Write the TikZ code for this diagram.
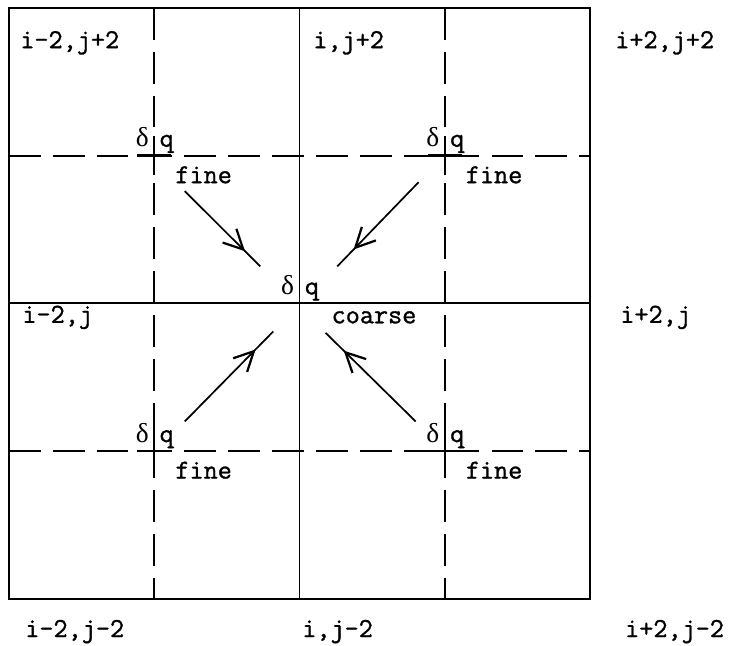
\documentclass[tikz,border=0pt]{standalone}
\usepackage{fontspec}
\usetikzlibrary{arrows.meta,decorations.markings}

\newfontfamily\typer{Latin Modern Mono}[FakeBold=1.2]
\newfontfamily\grk{Liberation Serif}

\begin{document}
\begin{tikzpicture}[x=2.98cm, y=3.03cm,
    gridline/.style={line width=1.1pt},
    fineline/.style={line width=1.1pt, dash pattern=on 0.65cm off 0.25cm},
    txt/.style={font=\fontsize{16}{18}\selectfont\typer, inner sep=0pt},
    flux/.style={line width=1pt, postaction={decorate},
        decoration={markings, mark=at position 0.8 with
            {\arrow{Straight Barb[length=4mm,width=4mm,line width=1.3pt]}}}}]

            \useasboundingbox (-0.062,-0.318) rectangle (4.978,4.054);

            % --------------------------------------------------
            % Grid points
            % --------------------------------------------------
            \coordinate (c)  at (2,2);
            \coordinate (tl) at (1,3);
            \coordinate (tr) at (3,3);
            \coordinate (bl) at (1,1);
            \coordinate (br) at (3,1);

            % Fine grid (dashed)
            \draw[fineline] (1,4) -- (1,0);
            \draw[fineline] (3,4) -- (3,0);
            \draw[fineline] (0,3) -- (4,3);
            \draw[fineline] (0,1) -- (4,1);

            % Coarse grid (solid)
            \draw[gridline] (0,0) rectangle (4,4);
            \draw[gridline] (2,0) -- (2,4);
            \draw[gridline] (0,2) -- (4,2);

            % --------------------------------------------------
            % Fine points: crosses, labels
            % --------------------------------------------------
            \foreach \p in {tl,tr,bl,br} {
                \draw[gridline, line width=1.4pt] ([yshift=-0.4cm]\p) -- ([yshift=0.4cm]\p);
                \draw[gridline, line width=1.4pt] ([xshift=-0.35cm]\p) -- ([xshift=0.35cm]\p);
                \node[txt] (fine-\p) at ([shift={(0.34,-0.13)}]\p) {fine};
            }
            \foreach \p in {tl,tr,bl,br,c} {
                \node[txt, anchor=base east] (d-\p) at ([shift={(-0.035,0.06)}]\p) {\grk δ};
                \node[txt, anchor=base west] (q-\p) at ([shift={(0.035,0.06)}]\p) {q};
            }
            \node[txt] (coarse) at ([shift={(0.513,-0.095)}]c) {coarse};

            % --------------------------------------------------
            % Transfer arrows, fine -> coarse
            % --------------------------------------------------
            \coordinate (tl-s) at ([shift={(0.21,-0.24)}]tl);
            \coordinate (tr-s) at ([shift={(-0.18,-0.18)}]tr);
            \coordinate (bl-s) at ([shift={(0.21,0.20)}]bl);
            \coordinate (br-s) at ([shift={(-0.20,0.20)}]br);
            \coordinate (tl-e) at ([shift={(-0.27,0.25)}]c);
            \coordinate (tr-e) at ([shift={(0.26,0.25)}]c);
            \coordinate (bl-e) at ([shift={(-0.18,-0.19)}]c);
            \coordinate (br-e) at ([shift={(0.18,-0.20)}]c);
            \foreach \p in {tl,tr,bl,br}
                \draw[flux] (\p-s) -- (\p-e);

            % --------------------------------------------------
            % Cell indices
            % --------------------------------------------------
            \node[txt, anchor=west] (n-mm-pp) at (0.076,3.764) {i-2,j+2};
            \node[txt, anchor=west] (n-0-pp)  at (2.093,3.764) {i,j+2};
            \node[txt, anchor=west] (n-pp-pp) at (4.172,3.764) {i+2,j+2};
            \node[txt, anchor=west] (n-mm-0)  at (0.090,1.905) {i-2,j};
            \node[txt, anchor=west] (n-pp-0)  at (4.207,1.905) {i+2,j};
            \node[txt, anchor=west] (n-mm-mm) at (0.110,-0.223) {i-2,j-2};
            \node[txt, anchor=west] (n-0-mm)  at (2.017,-0.223) {i,j-2};
            \node[txt, anchor=west] (n-pp-mm) at (4.240,-0.223) {i+2,j-2};

        \end{tikzpicture}
\end{document}
